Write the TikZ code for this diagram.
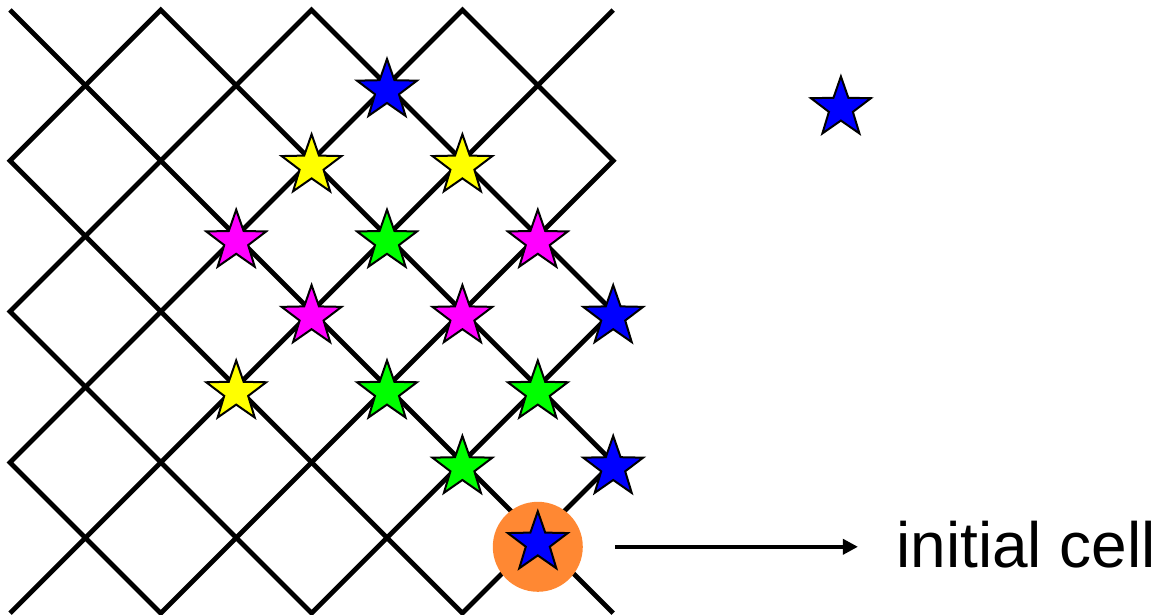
\documentclass[tikz,border=0pt]{standalone}
\usepackage{fontspec}
\setmainfont{Liberation Sans}
\usepackage{xcolor}
\definecolor{starblue}{HTML}{0000FF}
\definecolor{staryellow}{HTML}{FFFF00}
\definecolor{starmagenta}{HTML}{FF00FF}
\definecolor{stargreen}{HTML}{00FF00}
\definecolor{initorange}{HTML}{FF8833}
\usepackage{tikz}
\usetikzlibrary{shapes.geometric, arrows.meta}

\begin{document}
\begin{tikzpicture}[
    x=37.7pt, y=-37.7pt,
    gridline/.style = {line width=2.4pt, black, line join=miter},
    cell/.style     = {star, star points=5, star point ratio=2.5, minimum size=31.5pt,
                       inner sep=0pt, draw=black, line width=1pt, yshift=-2.5pt},
    initcell/.style = {circle, fill=initorange, minimum size=45pt, inner sep=0pt},
    lbl/.style      = {inner sep=0pt, font=\fontsize{32pt}{38pt}\selectfont},
    arr/.style      = {-{Triangle[length=7.5pt, width=7.5pt]}, line width=1.8pt},
  ]
    \useasboundingbox (-0.1326,-0.1326) rectangle (15.2918,8.0239);

    % ── Diagonal lattice ─────────────────────────────────────
    \draw[gridline] (2,0) -- (8,6) -- (6,8) -- (0,2) -- cycle;
    \draw[gridline] (4,0) -- (8,4) -- (4,8) -- (0,4) -- cycle;
    \draw[gridline] (6,0) -- (8,2) -- (2,8) -- (0,6) -- cycle;
    \draw[gridline] (0,0) -- (8,8);
    \draw[gridline] (0,8) -- (8,0);

    % ── Initial cell ─────────────────────────────────────────
    \node[initcell, yshift=-4.5pt] (init) at (7,7) {};

    % ── Stars on the lattice ─────────────────────────────────
    \node[cell, fill=starblue]    (b1) at (5,1) {};
    \node[cell, fill=staryellow]  (y1) at (4,2) {};
    \node[cell, fill=staryellow]  (y2) at (6,2) {};
    \node[cell, fill=starmagenta] (m1) at (3,3) {};
    \node[cell, fill=stargreen]   (g1) at (5,3) {};
    \node[cell, fill=starmagenta] (m2) at (7,3) {};
    \node[cell, fill=starmagenta] (m3) at (4,4) {};
    \node[cell, fill=starmagenta] (m4) at (6,4) {};
    \node[cell, fill=starblue]    (b2) at (8,4) {};
    \node[cell, fill=staryellow]  (y3) at (3,5) {};
    \node[cell, fill=stargreen]   (g2) at (5,5) {};
    \node[cell, fill=stargreen]   (g3) at (7,5) {};
    \node[cell, fill=stargreen]   (g4) at (6,6) {};
    \node[cell, fill=starblue]    (b3) at (8,6) {};
    \node[cell, fill=starblue]    (b4) at (7,7) {};

    % ── Free star and label ──────────────────────────────────
    \node[cell, fill=starblue] (free) at (11.02,1.233) {};
    \node[lbl, anchor=base west] (lbl) at (11.75,7.40) {initial cell};
    \draw[arr, shorten <=16pt, shorten >=19pt] (init.east) -- (init.east -| lbl.west);

  \end{tikzpicture}
\end{document}
